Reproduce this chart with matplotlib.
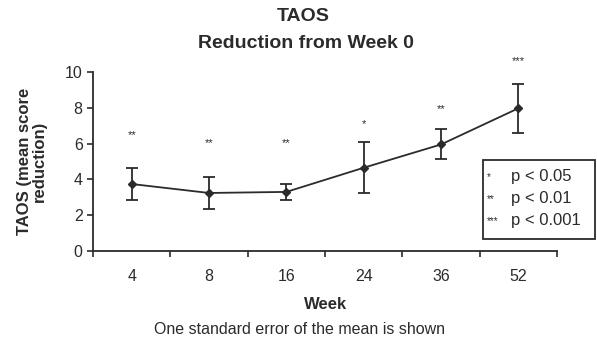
import matplotlib.pyplot as plt
from matplotlib.patches import Rectangle

plt.rcParams['font.family'] = ['Liberation Sans', 'DejaVu Sans']

weeks = ['4', '8', '16', '24', '36', '52']
means = [3.74, 3.24, 3.30, 4.65, 5.95, 7.97]
sem = [0.90, 0.88, 0.45, 1.42, 0.84, 1.37]
stars = ['**', '**', '**', '*', '**', '***']
star_y = [6.5, 6.0, 6.0, 7.1, 7.9, 10.6]

ink = '#2b2b2b'
fig = plt.figure(figsize=(5.97, 3.41), dpi=100)
ax = fig.add_axes([0.156, 0.264, 0.777, 0.525])

x = list(range(len(weeks)))
ax.errorbar(x, means, yerr=sem, color=ink, lw=1.3, marker='D', ms=4,
            capsize=4, capthick=1.3, elinewidth=1.3)
for xi, s, sy in zip(x, stars, star_y):
    ax.text(xi, sy, s, ha='center', va='center', fontsize=8, color=ink)

ax.set_xlim(-0.5, len(weeks) - 0.5)
ax.set_ylim(0, 10)
ax.set_yticks([0, 2, 4, 6, 8, 10])
ax.set_xticks([i - 0.5 for i in range(len(weeks) + 1)])
ax.set_xticklabels([])
ax.set_xticks(x, minor=True)
ax.set_xticklabels(weeks, minor=True)
ax.tick_params(axis='x', which='minor', length=0, pad=13, labelsize=11.5, colors=ink)
ax.tick_params(axis='x', which='major', length=4, width=1.2, color=ink)
ax.tick_params(axis='y', length=4, width=1.2, labelsize=11.5, colors=ink)
for sp in ['top', 'right']:
    ax.spines[sp].set_visible(False)
for sp in ['left', 'bottom']:
    ax.spines[sp].set_color(ink)
    ax.spines[sp].set_linewidth(1.3)

ax.set_xlabel('Week', fontsize=12, fontweight='bold', color=ink)
ax.xaxis.set_label_coords(0.5, -0.255)
ax.set_ylabel('TAOS (mean score\nreduction)', fontsize=12, fontweight='bold',
              color=ink, linespacing=0.95)
ax.yaxis.set_label_coords(-0.10, 0.5)

fig.text(0.508, 0.952, 'TAOS', ha='center', va='center', fontsize=14,
         fontweight='bold', color=ink)
fig.text(0.512, 0.873, 'Reduction from Week 0', ha='center', va='center',
         fontsize=14, fontweight='bold', color=ink)
fig.text(0.502, 0.035, 'One standard error of the mean is shown',
         ha='center', va='center', fontsize=11.5, color=ink)

# significance key
fig.patches.append(Rectangle((483 / 597, 1 - 239 / 341), 112 / 597, 79 / 341,
                             transform=fig.transFigure, fill=False,
                             edgecolor=ink, lw=1.3))
keys = ['*', '**', '***']
labels = ['p < 0.05', 'p < 0.01', 'p < 0.001']
for i, (k, lab) in enumerate(zip(keys, labels)):
    yy = 1 - (177 + i * 22) / 341
    fig.text(487 / 597, yy, k, ha='left', va='center', fontsize=7, color=ink)
    fig.text(511 / 597, yy, lab, ha='left', va='center', fontsize=12, color=ink)

fig.savefig('out.png', dpi=100, facecolor='white')
